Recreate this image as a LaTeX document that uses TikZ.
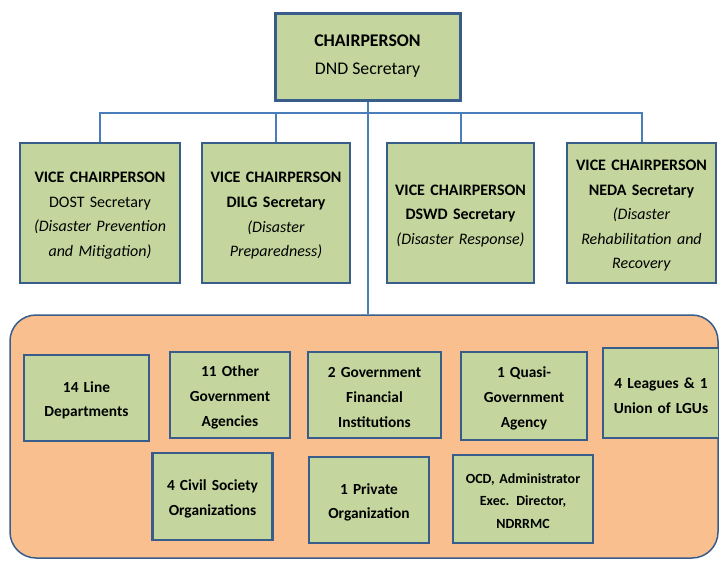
\documentclass[tikz,border=0pt]{standalone}
\usepackage{fontspec}
\setmainfont{Carlito}
\usetikzlibrary{positioning}
\definecolor{postfill}{RGB}{196,214,158}
\definecolor{postline}{RGB}{56,93,138}
\definecolor{linkblue}{RGB}{74,126,187}
\definecolor{councilfill}{RGB}{250,191,142}

\begin{document}
\begin{tikzpicture}[
  x=1pt, y=-1pt,
  post/.style={draw=postline, line width=2.5pt, fill=postfill, align=center, inner sep=2pt,
    execute at begin node={\rule{0pt}{1em}}},
  vice/.style={post, minimum height=140, font=\fontsize{16}{24.6}\selectfont},
  member/.style={post, font=\bfseries\fontsize{15.4}{24.8}\selectfont},
  link/.style={draw=linkblue, line width=2pt}
]
\useasboundingbox (0,0) rectangle (719,560);

% council block behind the members
\node (council) [draw=postline, line width=1.5pt, fill=councilfill, rounded corners=26pt,
  minimum width=708, minimum height=243] at (364,436.5) {};

\node (chair) [post, line width=3pt, minimum width=185, minimum height=87,
  font=\fontsize{17.8}{28}\selectfont] at (367.5,56.5)
  {\textbf{CHAIRPERSON}\\DND Secretary};

\node (vc1) [vice, minimum width=160, text width=154] at (100,213)
  {\textbf{VICE CHAIRPERSON}\\DOST Secretary\\\textit{(Disaster Prevention}\\\textit{and Mitigation)}};
\node (vc2) [vice, minimum width=148, text width=142] at (276,213)
  {\textbf{VICE CHAIRPERSON}\\\textbf{DILG Secretary}\\\textit{(Disaster}\\\textit{Preparedness)}};
\node (vc3) [vice, minimum width=147, text width=141] at (460.5,213)
  {\textbf{VICE CHAIRPERSON}\\\textbf{DSWD Secretary}\\\textit{(Disaster Response)}};
\node (vc4) [vice, minimum width=149, text width=143] at (641.5,213)
  {\textbf{VICE CHAIRPERSON}\\\textbf{NEDA Secretary}\\\textit{(Disaster}\\\textit{Rehabilitation and}\\\textit{Recovery}};

% first row of members
\node (line) [member, minimum width=125, minimum height=86, text width=119] at (86.5,398)
  {14 Line\\Departments};
\node (other) [member, minimum width=120, minimum height=86, text width=114] at (230,395)
  {11 Other\\Government\\Agencies};
\node (gfi) [member, minimum width=133, minimum height=86, text width=127] at (374.5,395)
  {2 Government\\Financial\\Institutions};
\node (quasi) [member, minimum width=126, minimum height=88, text width=120] at (524,396)
  {1 Quasi-\\Government\\Agency};
\node (lgu) [member, minimum width=116, minimum height=90, text width=110] at (661,393)
  {4 Leagues \& 1\\Union of LGUs};

% second row of members
\node (cso) [member, minimum width=120, minimum height=87, text width=114] at (212.5,496.5)
  {4 Civil Society\\Organizations};
\node (private) [member, minimum width=120, minimum height=86, text width=114] at (369,500)
  {1 Private\\Organization};
\node (ocd) [member, minimum width=140, minimum height=88, text width=134,
  font=\bfseries\fontsize{14}{22.5}\selectfont] at (523,499)
  {OCD, Administrator\\Exec. Director,\\NDRRMC};

% connectors
\coordinate (bus) at (367.5,112.5);
\draw[link] (chair.south) -- (chair.south |- council.north);
\draw[link] (vc1.north) -- (vc1.north |- bus) -- (vc4.north |- bus) -- (vc4.north);
\draw[link] (vc2.north) -- (vc2.north |- bus);
\draw[link] (vc3.north) -- (vc3.north |- bus);

\end{tikzpicture}
\end{document}
